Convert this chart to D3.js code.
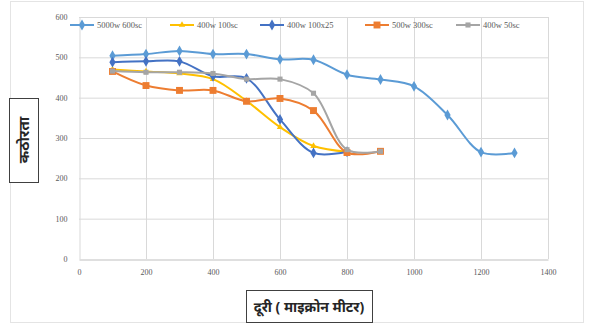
<!DOCTYPE html>
<html>
<head>
<meta charset="utf-8">
<script src="https://cdn.jsdelivr.net/npm/d3@7"></script>
<style>
  body { margin: 0; background: #fff; }
  svg { display: block; font-family: "Liberation Serif", "DejaVu Serif", serif; }
</style>
</head>
<body>
<div id="chart"></div>
<script>
const xValues = [100, 200, 300, 400, 500, 600, 700, 800, 900, 1000, 1100, 1200, 1300];
const seriesNames = ["5000w 600sc", "400w 100sc", "400w 100x25", "500w 300sc", "400w 50sc"];
const s1 = [504, 508, 516, 508, 508, 495, 494, 457, 445, 428, 357, 265, 263];
const s2 = [470, 465, 460, 446, 392, 327, 280, 266];
const s3 = [488, 490, 490, 453, 448, 346, 263, 266];
const s4 = [465, 430, 418, 418, 391, 398, 368, 264, 267];
const s5 = [466, 463, 463, 460, 446, 446, 411, 271, 267];
const xTicks = [0, 200, 400, 600, 800, 1000, 1200, 1400];
const yTicks = [0, 100, 200, 300, 400, 500, 600];

const colors = ["#5b9bd5", "#ffc000", "#4472c4", "#ed7d31", "#a5a5a5"];
const markers = [d3.symbolDiamond, d3.symbolTriangle, d3.symbolDiamond, d3.symbolSquare, d3.symbolSquare];
const markerSize = [34, 18, 34, 48, 26];

const width = 589, height = 327;
const plot = { left: 79, right: 548, top: 17, bottom: 259 };

const svg = d3.select("#chart").append("svg")
  .attr("width", width)
  .attr("height", height);

// outer chart frame
svg.append("rect")
  .attr("x", 10.5).attr("y", 1.5)
  .attr("width", 573).attr("height", 321)
  .attr("fill", "none")
  .attr("stroke", "#e4e4e4");

const x = d3.scaleLinear().domain([0, 1400]).range([plot.left, plot.right]);
const y = d3.scaleLinear().domain([0, 600]).range([plot.bottom, plot.top]);

// grid
svg.append("g").selectAll("line.h")
  .data(yTicks.slice(1))
  .enter().append("line")
  .attr("x1", plot.left).attr("x2", plot.right)
  .attr("y1", d => y(d) + 0.5).attr("y2", d => y(d) + 0.5)
  .attr("stroke", "#d9d9d9");

svg.append("g").selectAll("line.v")
  .data(xTicks.slice(1))
  .enter().append("line")
  .attr("x1", d => x(d) + 0.5).attr("x2", d => x(d) + 0.5)
  .attr("y1", plot.top).attr("y2", plot.bottom)
  .attr("stroke", "#d9d9d9");

// axes
const xAxis = svg.append("g")
  .attr("transform", `translate(0,${plot.bottom + 0.5})`)
  .call(d3.axisBottom(x).tickValues(xTicks).tickFormat(d3.format("d")).tickSize(0).tickPadding(10));
const yAxis = svg.append("g")
  .attr("transform", `translate(${plot.left + 0.5},0)`)
  .call(d3.axisLeft(y).tickValues(yTicks).tickFormat(d3.format("d")).tickSize(0).tickPadding(12));
[xAxis, yAxis].forEach(a => {
  a.select(".domain").attr("stroke", "#bfbfbf");
  a.selectAll("text").attr("fill", "#595959").attr("font-size", 8)
    .attr("font-family", "Liberation Serif, serif");
});
yAxis.select(".domain").attr("stroke", "#d9d9d9");

// series
const allSeries = [s1, s2, s3, s4, s5].map((vals, i) => ({
  name: seriesNames[i],
  color: colors[i],
  marker: markers[i],
  size: markerSize[i],
  points: vals.map((v, j) => ({ x: xValues[j], y: v }))
}));

const line = d3.line()
  .x(d => x(d.x))
  .y(d => y(d.y))
  .curve(d3.curveCatmullRom.alpha(0.5));

allSeries.forEach(s => {
  svg.append("path")
    .datum(s.points)
    .attr("fill", "none")
    .attr("stroke", s.color)
    .attr("stroke-width", 2)
    .attr("d", line);

  svg.append("g").selectAll("path")
    .data(s.points)
    .enter().append("path")
    .attr("transform", d => `translate(${x(d.x)},${y(d.y)})`)
    .attr("d", d3.symbol().type(s.marker).size(s.size))
    .attr("fill", s.color);
});

// legend
const legendX = [70, 170, 260, 365, 456];
const legend = svg.append("g").attr("transform", "translate(0,25)");
allSeries.forEach((s, i) => {
  const g = legend.append("g").attr("transform", `translate(${legendX[i]},0)`);
  g.append("line")
    .attr("x1", 0).attr("x2", 24)
    .attr("stroke", s.color).attr("stroke-width", 2);
  g.append("path")
    .attr("transform", "translate(12,0)")
    .attr("d", d3.symbol().type(s.marker).size(s.size))
    .attr("fill", s.color);
  g.append("text")
    .attr("x", 27).attr("y", 3)
    .attr("font-size", 8.5)
    .attr("fill", "#595959")
    .text(s.name);
});

// axis titles
const yt = svg.append("g");
yt.append("rect")
  .attr("x", 9.5).attr("y", 98.5).attr("width", 29).attr("height", 84)
  .attr("fill", "#fff").attr("stroke", "#404040");
yt.append("text")
  .attr("transform", "translate(29,140) rotate(-90)")
  .attr("text-anchor", "middle")
  .attr("font-family", "Noto Sans, sans-serif")
  .attr("font-weight", "bold")
  .attr("font-size", 15)
  .attr("fill", "#262626")
  .text("कठोरता");

const xt = svg.append("g");
xt.append("rect")
  .attr("x", 246.5).attr("y", 290.5).attr("width", 126).attr("height", 32)
  .attr("fill", "#fff").attr("stroke", "#404040");
xt.append("text")
  .attr("x", 309).attr("y", 312)
  .attr("text-anchor", "middle")
  .attr("font-family", "Noto Sans, sans-serif")
  .attr("font-weight", "bold")
  .attr("font-size", 14)
  .attr("fill", "#262626")
  .text("दूरी ( माइक्रोन मीटर)");
</script>
</body>
</html>
